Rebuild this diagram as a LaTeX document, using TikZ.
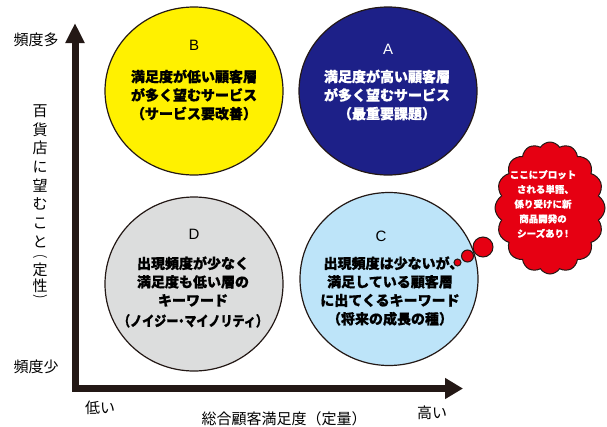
\documentclass[tikz,border=0pt]{standalone}
\usepackage{fontspec}
\setmainfont{Noto Sans CJK JP}
\newfontfamily\heavyjp{Noto Sans CJK JP}[BoldFeatures={FakeBold=0.8}, RawFeature=+halt]
\newfontfamily\latinsans{Liberation Sans}
\usetikzlibrary{arrows.meta,shapes.geometric,shapes.symbols}
\definecolor{inkblack}{RGB}{35,24,21}
\definecolor{qyellow}{RGB}{255,241,0}
\definecolor{qnavy}{RGB}{29,32,136}
\definecolor{qgray}{RGB}{220,221,221}
\definecolor{qblue}{RGB}{189,228,249}
\definecolor{qred}{RGB}{230,0,18}
\begin{document}
\begin{tikzpicture}[x=1pt,y=-1pt,
  quad/.style={ellipse, draw=inkblack, line width=1.2pt, inner sep=0pt, minimum width=178pt},
  letter/.style={font=\latinsans\fontsize{15}{15}\selectfont, inner sep=0pt},
  body/.style={font=\heavyjp\bfseries\fontsize{14}{18.5}\selectfont, align=center, inner sep=0pt},
  axislabel/.style={font=\fontsize{15}{15}\selectfont, inner sep=0pt},
  vchar/.style={font=\fontsize{15}{15}\selectfont, inner sep=0pt},
  vparen/.style={font=\fontsize{10}{10}\selectfont, inner sep=0pt},
  bubble/.style={circle, draw=inkblack, line width=1pt, fill=qred, inner sep=0pt},
]
\useasboundingbox (0,0) rectangle (607,426);

% four quadrants
\node[quad, minimum height=168pt, fill=qyellow] (B) at (194,91) {};
\node[quad, minimum height=168pt, fill=qnavy] (A) at (388,91) {};
\node[quad, minimum height=174pt, fill=qgray] (D) at (194,284) {};
\node[quad, minimum height=173pt, fill=qblue] (C) at (389,279) {};

\node[letter] (Blabel) at (194,45) {B};
\node[body] (Btext) at (194,95) {満足度が低い顧客層\\が多く望むサービス\\（サービス要改善）};

\node[letter, text=white] (Alabel) at (388,49) {A};
\node[body, text=white] (Atext) at (387,95) {満足度が高い顧客層\\が多く望むサービス\\（最重要課題）};

\node[letter] (Dlabel) at (194,234) {D};
\node[body] (Dtext) at (193,292) {出現頻度が少なく\\満足度も低い層の\\キーワード\\[2pt]\scalebox{0.86}[1]{（ノイジー・マイノリティ）}};

\node[letter] (Clabel) at (381,236) {C};
\node[body] (Ctext) at (390,291) {出現頻度は少ないが、\\満足している顧客層\\に出てくるキーワード\\（将来の成長の種）};

% thought cloud with its trail of bubbles
\node[cloud, cloud puffs=16, cloud puff arc=115, cloud ignores aspect,
      minimum width=110pt, minimum height=132pt, inner sep=0pt,
      fill=qred, draw=inkblack, line width=1pt] (cloud) at (550,208) {};
\node[body, text=white, font=\heavyjp\bfseries\fontsize{9.5}{14.7}\selectfont] (cloudtext) at (543,204)
  {ここにプロット\\される単語、\\係り受けに新\\商品開発の\\シーズあり！};
\node[bubble, minimum size=20pt] (bub1) at (483,247) {};
\node[bubble, minimum size=12pt] (bub2) at (467.5,256) {};
\node[bubble, minimum size=7pt] (bub3) at (457.5,262.5) {};

% axes
\coordinate (ytip) at (75,23);
\coordinate (corner) at (75,388.5);
\coordinate (xtip) at (463,388.5);
\draw[draw=inkblack, line width=7pt, line join=miter,
      {Triangle[length=20pt,width=18pt]}-{Triangle[length=18pt,width=20pt]}]
  (ytip) -- (corner) -- (xtip);

% axis labels
\node[axislabel] (freqhigh) at (36,40) {頻度多};
\node[axislabel] (freqlow) at (36,367) {頻度少};
\node[axislabel] (satlow) at (100,408) {低い};
\node[axislabel] (sathigh) at (432,413) {高い};
\node[axislabel] (xtitle) at (284,419) {総合顧客満足度（定量）};

% vertical axis title, one glyph per row
\foreach \ch/\yy [count=\i] in {百/111.7, 貨/130, 店/148.3, に/167.3, 望/185.7, む/204,
    こ/223.5, と/241.8, 定/269.5, 性/286}
  \node[vchar] (ytitle\i) at (40,\yy) {\ch};
\node[vparen] (yopen) at (40,257) {\scalebox{1.5}[1]{︵}};
\node[vparen] (yclose) at (40,299.5) {\scalebox{1.5}[1]{︶}};
\end{tikzpicture}
\end{document}
